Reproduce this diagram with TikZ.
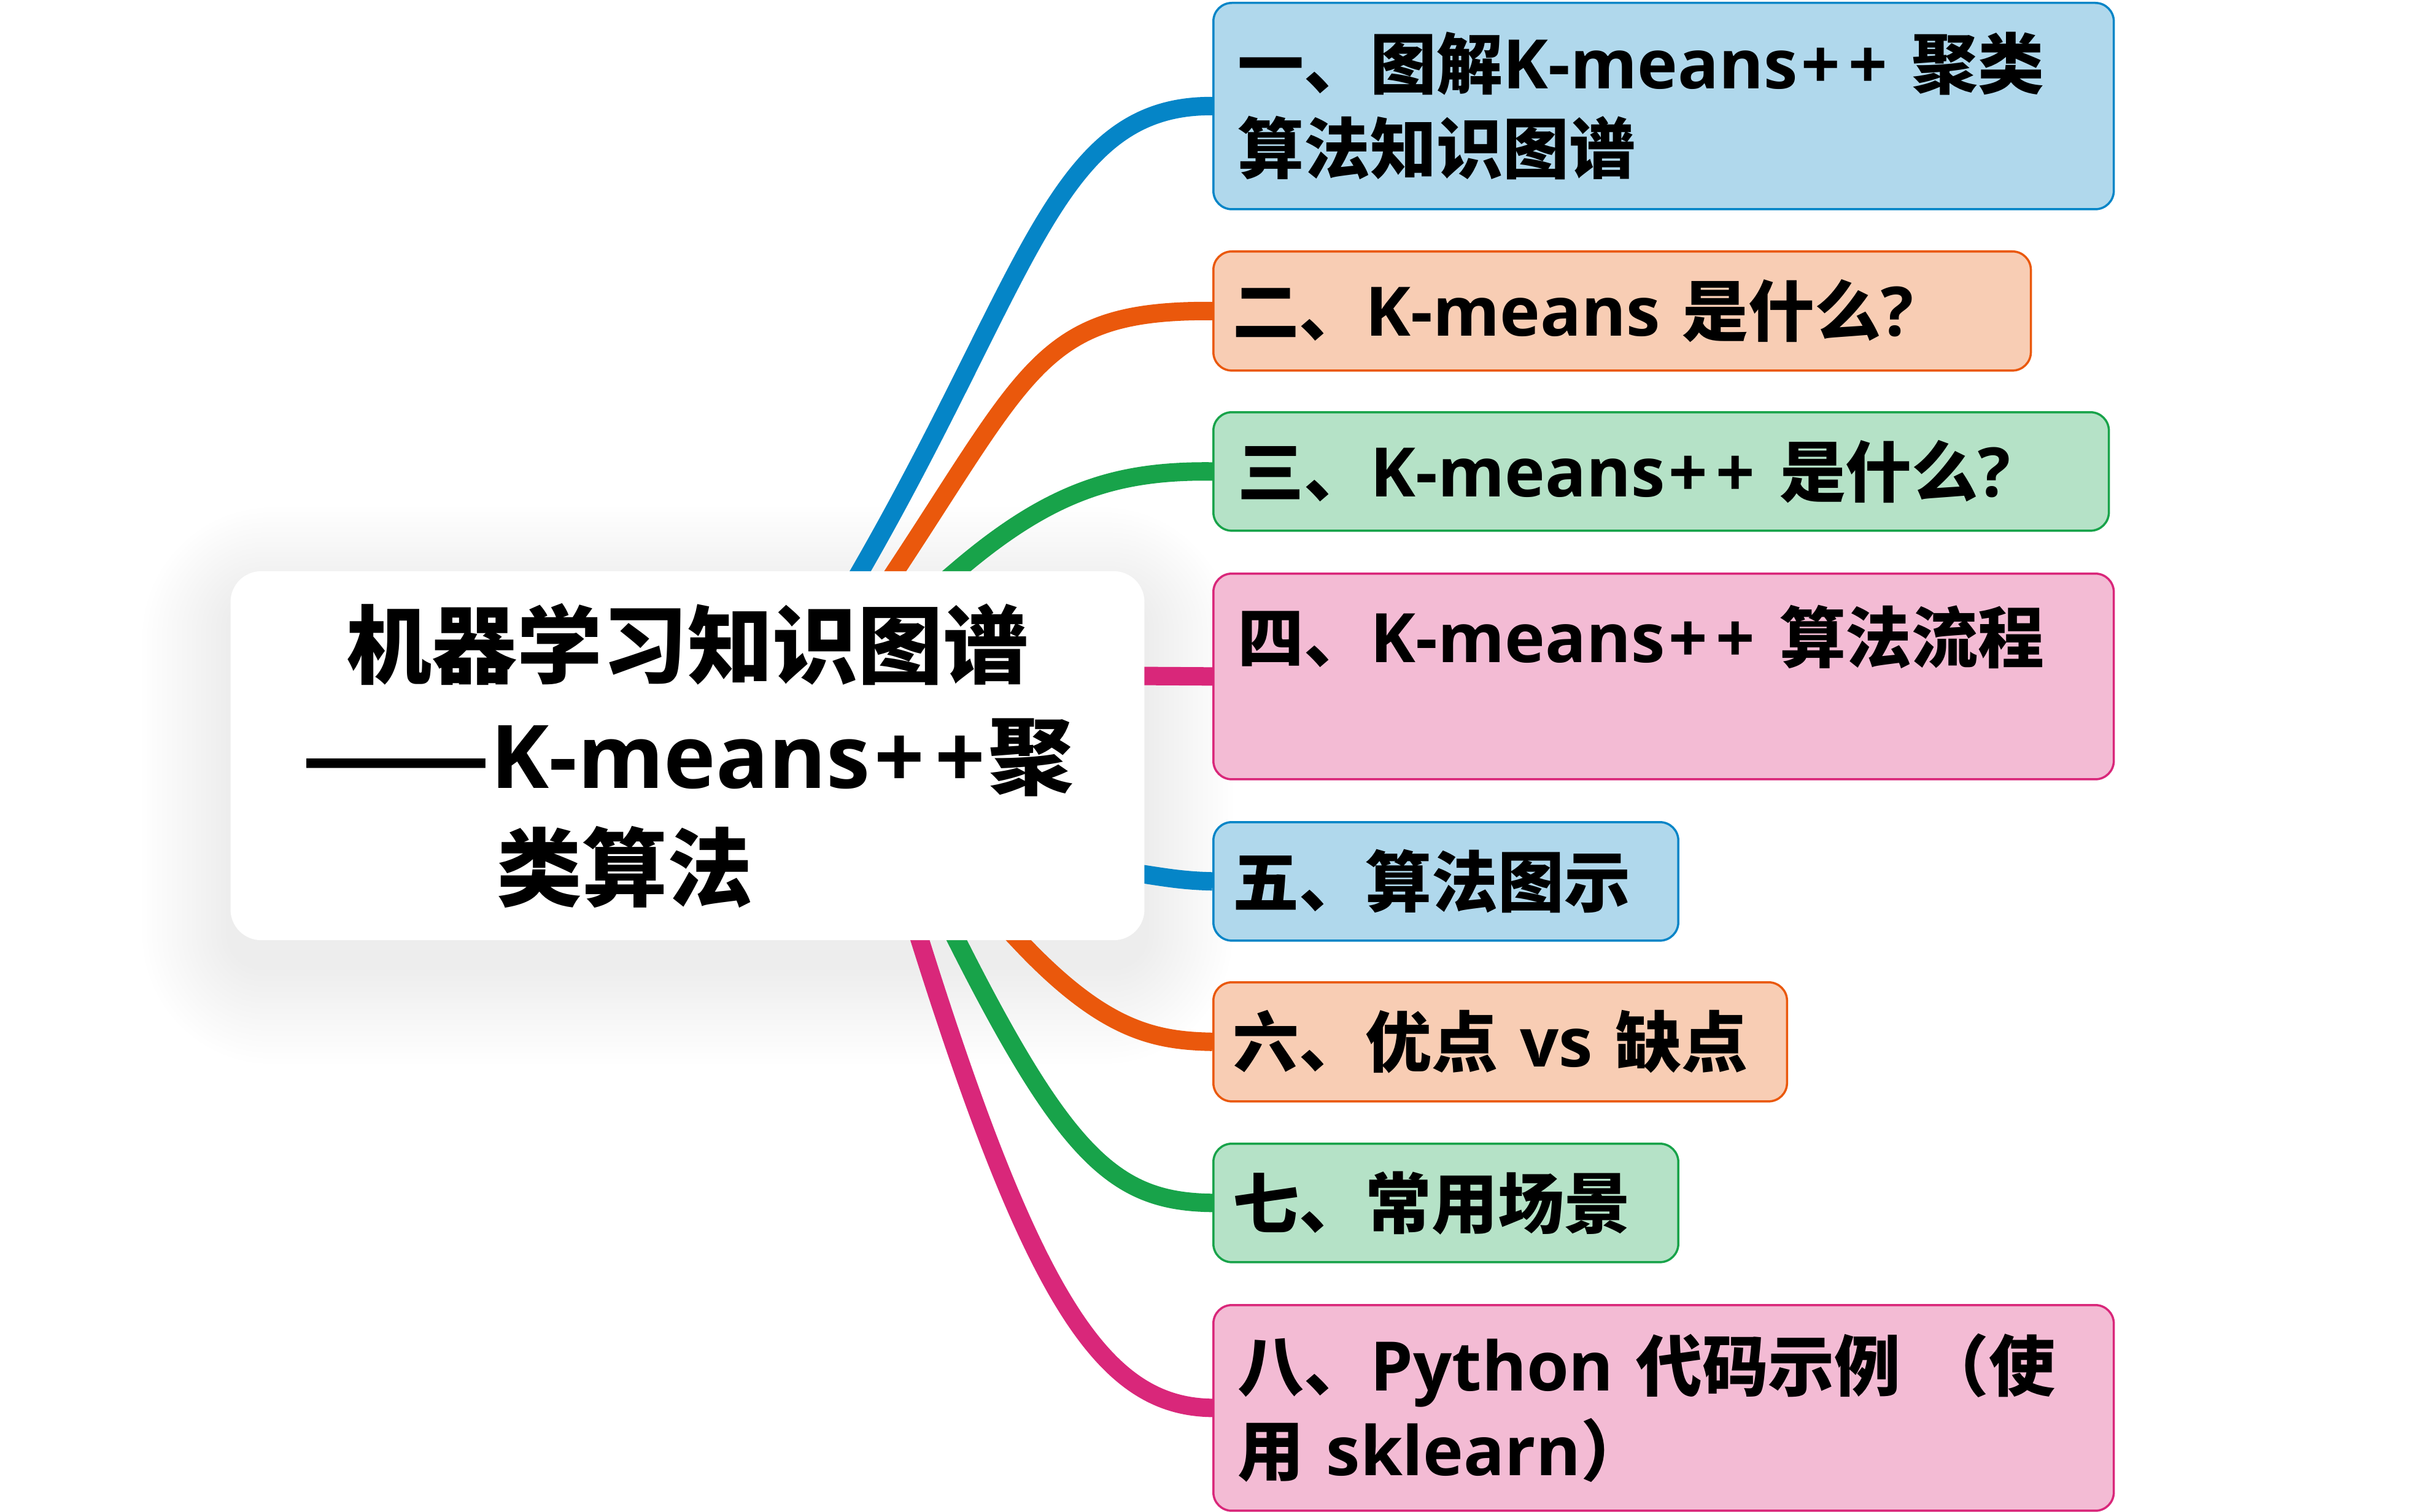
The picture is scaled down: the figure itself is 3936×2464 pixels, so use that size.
\documentclass[tikz,border=0pt]{standalone}
\usepackage{fontspec}
\setmainfont{Noto Sans CJK SC}
\newfontfamily\latf{Open Sans}[Scale=1.03]
\newcommand\LT[1]{{\latf #1}}
\newcommand\PP{{\latf \kern0.05em+\kern0.12em+\kern0.04em}}
\usetikzlibrary{backgrounds}
\definecolor{cblue}{HTML}{0585C7}
\definecolor{fblue}{HTML}{B0D8EC}
\definecolor{corange}{HTML}{EA580C}
\definecolor{forange}{HTML}{F8CDB4}
\definecolor{cgreen}{HTML}{18A34A}
\definecolor{fgreen}{HTML}{B5E2C7}
\definecolor{cpink}{HTML}{D9277A}
\definecolor{fpink}{HTML}{F3BBD4}
\begin{document}
\begin{tikzpicture}[x=0.01cm,y=-0.01cm,
  conn/.style={line width=0.3cm, line cap=butt, line join=round},
  topic/.style={draw, line width=0.035cm, rounded corners=0.3cm, anchor=north west,
    inner ysep=0pt, align=left, font=\bfseries\fontsize{30.7pt}{39.3pt}\selectfont},
  wideA/.style={inner xsep=0.40cm, text width=13.86cm, minimum width=14.66cm},
  wideB/.style={inner xsep=0.40cm, text width=13.78cm, minimum width=14.58cm},
  midA/.style={inner xsep=0.32cm, text width=12.67cm, minimum width=13.31cm},
  narrowA/.style={inner xsep=0.32cm, text width=6.93cm, minimum width=7.57cm},
  narrowB/.style={inner xsep=0.32cm, text width=8.70cm, minimum width=9.34cm},
  bluebox/.style={topic, draw=cblue, fill=fblue},
  orangebox/.style={topic, draw=corange, fill=forange},
  greenbox/.style={topic, draw=cgreen, fill=fgreen},
  pinkbox/.style={topic, draw=cpink, fill=fpink},
  rootbox/.style={fill=white, rounded corners=0.5cm, minimum width=14.88cm,
    minimum height=6.01cm, text width=14.0cm, inner sep=0pt, align=center,
    font=\bfseries\fontsize{39.5pt}{51.5pt}\selectfont}
]
\useasboundingbox (0,0) rectangle (3936,2464);

% root
\node[rootbox] (root) at (1120,1231.5)
  {机器学习知识图谱\\\scalebox{1.3}[1]{——}\LT{K-means}\PP 聚\\类算法\rule{2.04cm}{0pt}};

% children
\node[bluebox, wideA, minimum height=3.36cm] (n1) at (1975,3)
  {一、图解\LT{K-means}\PP{} 聚类\\算法知识图谱};
\node[orangebox, midA, minimum height=1.94cm] (n2) at (1975,408)
  {二、\LT{K-means} 是什么\LT{?}};
\node[greenbox, wideB, minimum height=1.93cm] (n3) at (1975,670)
  {三、\LT{K-means}\PP{} 是什么\LT{?}};
\node[pinkbox, wideA, minimum height=3.35cm] (n4) at (1975,933)
  {四、\LT{K-means}\PP{} 算法流程\\\mbox{}};
\node[bluebox, narrowA, minimum height=1.93cm] (n5) at (1975,1338)
  {五、算法图示};
\node[orangebox, narrowB, minimum height=1.94cm] (n6) at (1975,1599)
  {六、优点 \LT{vs} 缺点};
\node[greenbox, narrowA, minimum height=1.93cm] (n7) at (1975,1862)
  {七、常用场景};
\node[pinkbox, wideA, minimum height=3.35cm] (n8) at (1975,2125)
  {八、\LT{Python} 代码示例 （使\\用 \LT{sklearn}）};

% connector start points (inside the root)
\coordinate (s1) at (1362,999);  \coordinate (p1) at (1402,930);
\coordinate (s2) at (1415,997);  \coordinate (p2) at (1459,930);
\coordinate (s3) at (1498,982);  \coordinate (p3) at (1559,930);
\coordinate (s4) at (1700,1100.5);
\coordinate (s5) at (1720,1405);
\coordinate (s6) at (1605,1475); \coordinate (p6) at (1660,1533);
\coordinate (s7) at (1523,1462); \coordinate (p7) at (1559,1533);
\coordinate (s8) at (1475,1457); \coordinate (p8) at (1499,1533);

\begin{scope}[on background layer]
  \fill[white] (0,0) rectangle (3936,2464);
  \foreach \i in {1,...,18}{
    \pgfmathsetmacro\rr{0.5+0.09*\i}
    \fill[black, opacity=0.004, rounded corners=\rr cm]
      ({376-8*\i},{971-8*\i}) rectangle ({1864+8*\i},{1572+9*\i});
  }
  \draw[conn, cblue]   (s1) -- (p1) .. controls (1681,444) and (1720,171) .. (n1.west);
  \draw[conn, corange] (s2) -- (p2) .. controls (1679,596) and (1700,505) .. (n2.west);
  \draw[conn, cgreen]  (s3) -- (p3) .. controls (1711,800) and (1820,766.5) .. (n3.west);
  \draw[conn, cpink]   (s4) -- (n4.west);
  \draw[conn, cblue]   (s5) .. controls (1880,1424) and (1900,1434.5) .. (n5.west);
  \draw[conn, corange] (s6) -- (p6) .. controls (1797,1679) and (1880,1696) .. (n6.west);
  \draw[conn, cgreen]  (s7) -- (p7) .. controls (1739,1890) and (1820,1958.5) .. (n7.west);
  \draw[conn, cpink]   (s8) -- (p8) .. controls (1685,2124) and (1800,2292.5) .. (n8.west);
\end{scope}
\end{tikzpicture}
\end{document}
